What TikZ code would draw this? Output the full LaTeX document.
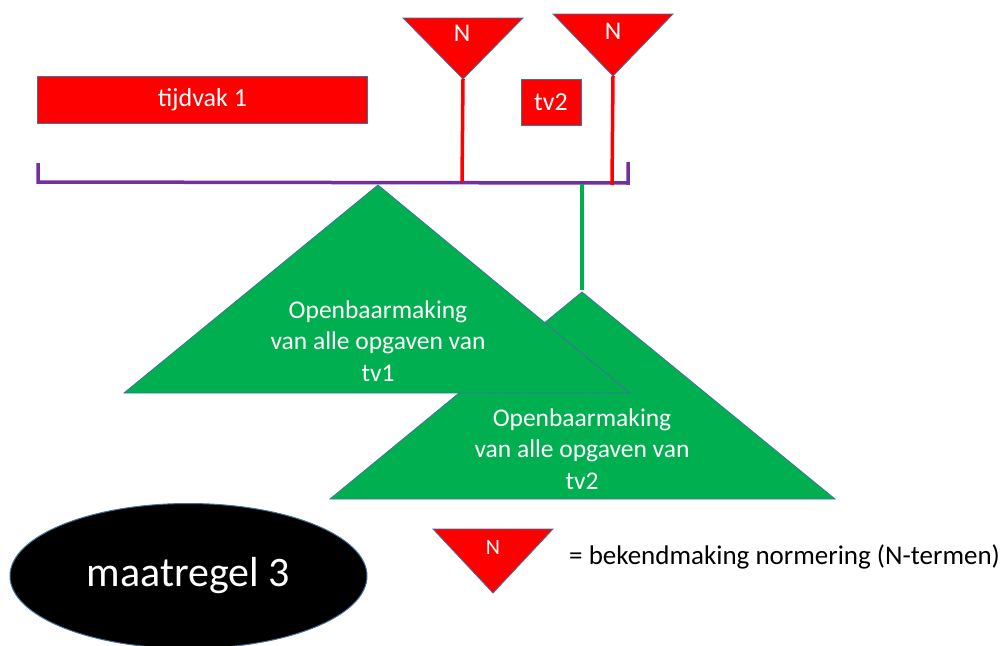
\documentclass[tikz,border=0pt]{standalone}
\usepackage{fontspec}
\setmainfont{Carlito}
\usepackage{xcolor}
\usetikzlibrary{shapes.geometric}

\definecolor{nred}{RGB}{255,0,0}
\definecolor{ngreen}{RGB}{0,176,80}
\definecolor{npurple}{RGB}{112,48,160}
\definecolor{nedge}{RGB}{65,113,156}

\tikzset{
  redbox/.style={draw=nedge,line width=0.8pt,fill=nred,text=white,inner sep=0pt,font=\fontsize{26}{30}\selectfont},
  nmark/.style={draw=nedge,line width=0.8pt,fill=nred},
  greentri/.style={draw=nedge,line width=0.8pt,fill=ngreen},
  wtext/.style={text=white,align=center,font=\fontsize{25.5}{31.5}\selectfont},
}

\begin{document}
\begin{tikzpicture}[x=1pt,y=1pt,yscale=-1]
\useasboundingbox (0,0) rectangle (1003,645);

%Periods
\node[redbox,minimum width=330pt,minimum height=47pt] (tv1box) at (202.5,99.5) {tijdvak 1};
\node[redbox,minimum width=60pt,minimum height=46pt] (tv2box) at (551,102) {tv2};

%N-markers
\draw[nmark] (403,18) -- (523,18) -- (463,79) -- cycle;
\node[wtext] (n1) at (462,33) {N};
\draw[nmark] (553,14) -- (673,14) -- (613,76) -- cycle;
\node[wtext] (n2) at (613,31) {N};

%Time bracket
\draw[npurple,line width=3.5pt] (38,163) -- (38,182) -- (628,183) -- (628,162);

%Stems
\coordinate (n1tip) at (463,79);
\coordinate (n1foot) at (462,182);
\coordinate (n2tip) at (613,76);
\coordinate (n2foot) at (612,185);
\draw[nred,line width=3.5pt] (n1tip) -- (n1foot);
\draw[nred,line width=3.5pt] (n2tip) -- (n2foot);

\coordinate (g2top) at (582,184);
\coordinate (g2tip) at (582,290);
\draw[ngreen,line width=3.5pt] (g2top) -- (g2tip);

%Disclosure triangles
\draw[greentri] (582,292) -- (835,499) -- (330,499) -- cycle;
\draw[greentri] (378,185) -- (630,393) -- (124,393) -- cycle;
\node[wtext] (open1) at (378,341) {Openbaarmaking\\van alle opgaven van\\tv1};
\node[wtext] (open2) at (582,449) {Openbaarmaking\\van alle opgaven van\\tv2};

%Measure
\node[ellipse,draw=nedge,line width=1pt,fill=black,minimum width=357pt,minimum height=145pt,inner sep=0pt] (maat) at (188.5,576) {};
\node[text=white,font=\fontsize{42}{46}\selectfont] (maatlabel) at (maat.center) {maatregel 3};

%Legend
\draw[nmark] (433,529) -- (553,529) -- (493,593) -- cycle;
\node[wtext,font=\fontsize{22}{26}\selectfont] (nleg) at (493,547) {N};
\node[anchor=west,font=\fontsize{27}{30}\selectfont,inner sep=0pt] (legtext) at (569,557) {= bekendmaking normering (N-termen)};

\end{tikzpicture}
\end{document}
